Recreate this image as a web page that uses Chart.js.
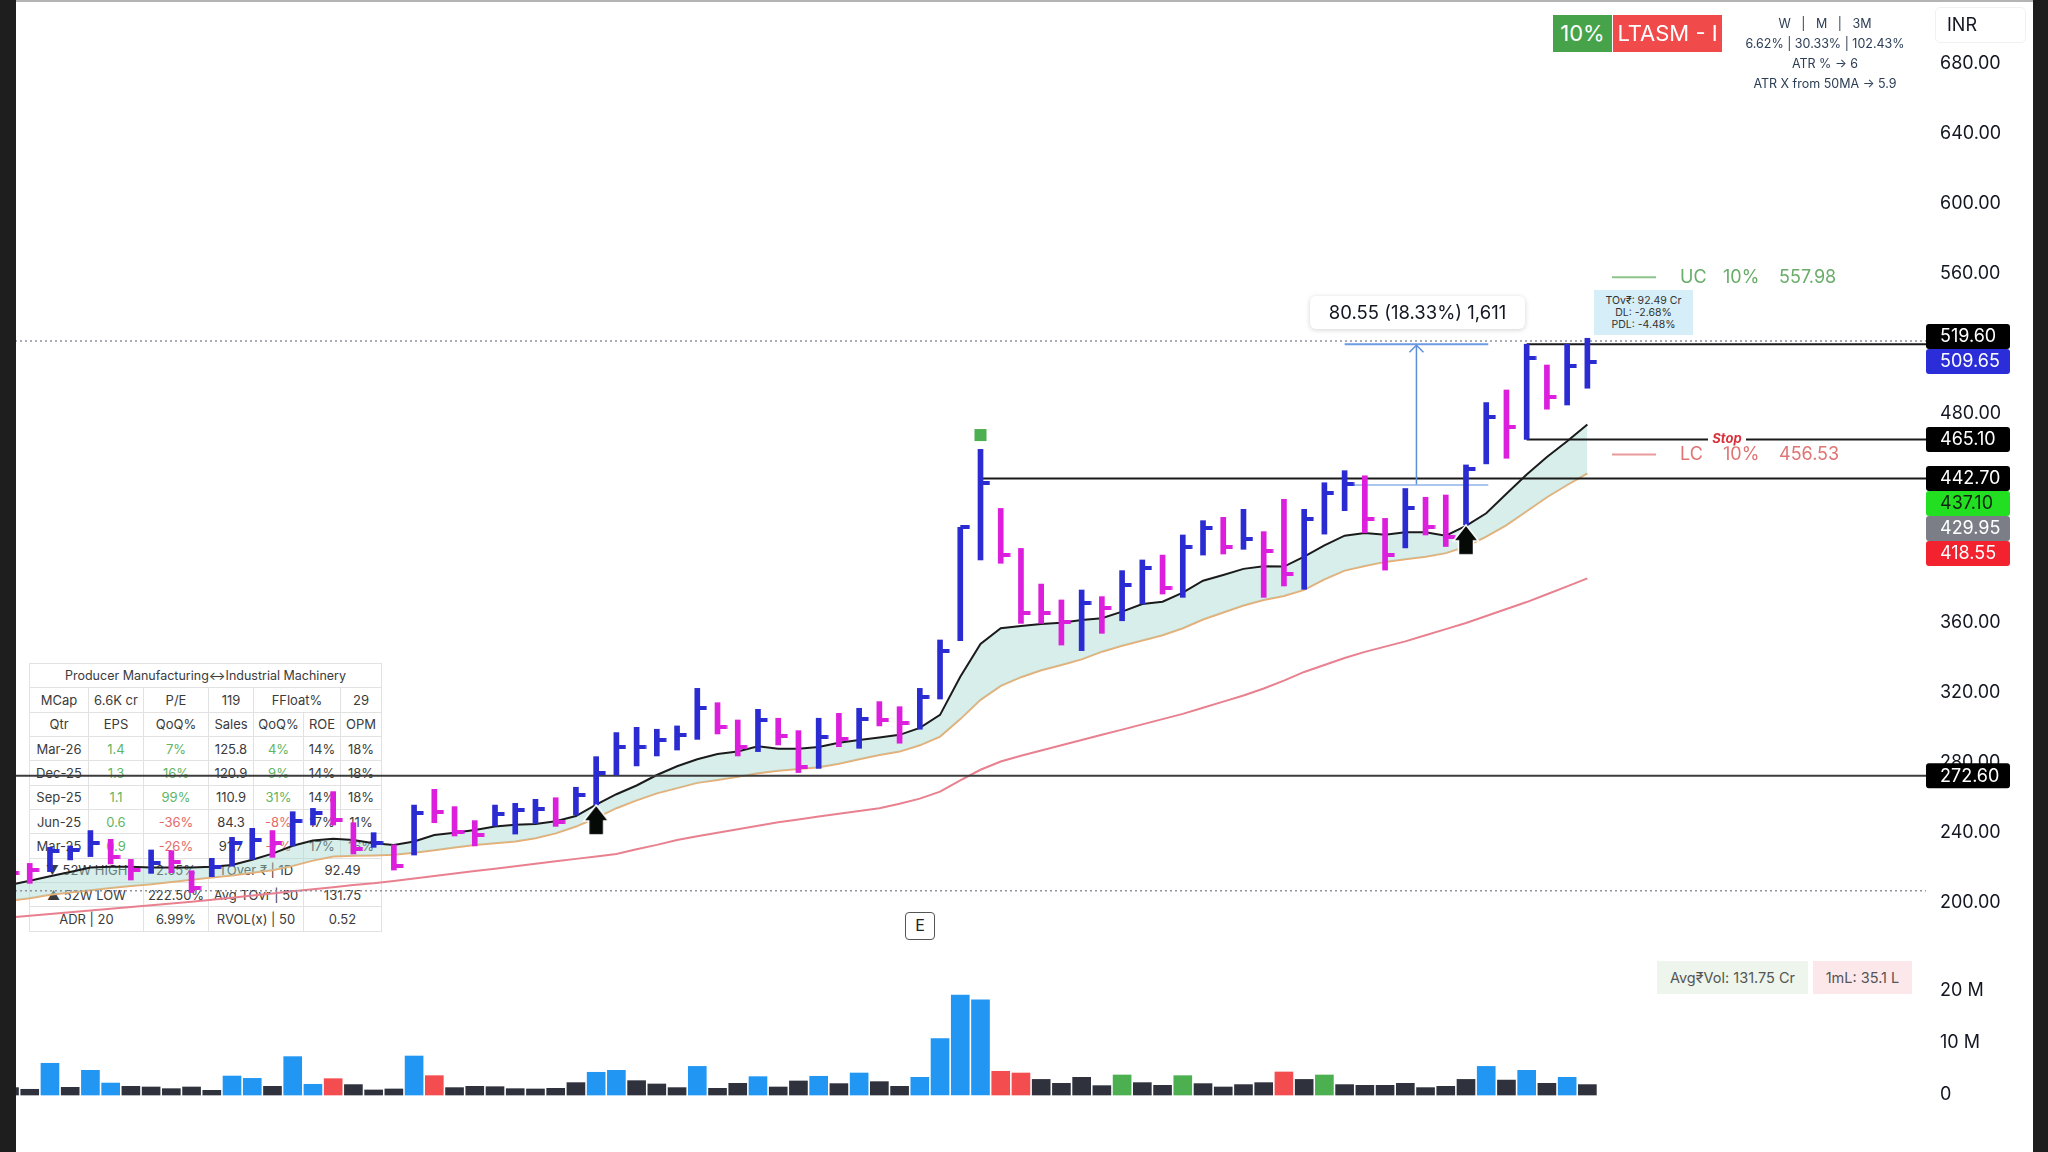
<!DOCTYPE html>
<html><head><meta charset="utf-8">
<script src="https://cdn.jsdelivr.net/npm/chart.js@4.4.1/dist/chart.umd.min.js"></script>
<style>
html,body{margin:0;padding:0;background:#fff;}
body{width:2048px;height:1152px;position:relative;overflow:hidden;font-family:Inter,"Noto Sans",sans-serif;color:#131722;}
#wrap{position:absolute;left:0;top:0;width:2048px;height:1152px;z-index:2;}
.ov{position:absolute;z-index:3;box-sizing:border-box;}
#info{position:absolute;left:29px;top:663px;z-index:1;border-collapse:collapse;table-layout:fixed;font-size:13px;color:#3b3b3b;}
#info td{border:1px solid #e2e2e2;padding:0;text-align:center;white-space:nowrap;overflow:hidden;}
#info tr{height:24.35px;}
.g{color:#5fb563;} .r{color:#e46a6a;}
</style></head>
<body>
<table id="info">
<colgroup><col style="width:59px"><col style="width:55px"><col style="width:65px"><col style="width:45px"><col style="width:50px"><col style="width:37px"><col style="width:41px"></colgroup>
<tr><td colspan="7" style="font-size:12.5px">Producer Manufacturing↔Industrial Machinery</td></tr>
<tr><td>MCap</td><td>6.6K cr</td><td>P/E</td><td>119</td><td colspan="2">FFloat%</td><td>29</td></tr>
<tr><td>Qtr</td><td>EPS</td><td>QoQ%</td><td>Sales</td><td>QoQ%</td><td>ROE</td><td>OPM</td></tr>
<tr><td>Mar-26</td><td class="g">1.4</td><td class="g">7%</td><td>125.8</td><td class="g">4%</td><td>14%</td><td>18%</td></tr>
<tr><td>Dec-25</td><td class="g">1.3</td><td class="g">16%</td><td>120.9</td><td class="g">9%</td><td>14%</td><td>18%</td></tr>
<tr><td>Sep-25</td><td class="g">1.1</td><td class="g">99%</td><td>110.9</td><td class="g">31%</td><td>14%</td><td>18%</td></tr>
<tr><td>Jun-25</td><td class="g">0.6</td><td class="r">-36%</td><td>84.3</td><td class="r">-8%</td><td>17%</td><td>11%</td></tr>
<tr><td>Mar-25</td><td class="g">0.9</td><td class="r">-26%</td><td>91.7</td><td class="r">-7%</td><td>17%</td><td>16%</td></tr>
<tr><td colspan="2">▼ 52W HIGH</td><td>2.55%</td><td colspan="2">TOver ₹ | 1D</td><td colspan="2">92.49</td></tr>
<tr><td colspan="2">▲ 52W LOW</td><td>222.50%</td><td colspan="2">Avg TOvr | 50</td><td colspan="2">131.75</td></tr>
<tr><td colspan="2">ADR | 20</td><td>6.99%</td><td colspan="2">RVOL(x) | 50</td><td colspan="2">0.52</td></tr>
</table>
<div id="wrap"><canvas id="c" width="2048" height="1152"></canvas></div>

<div class="ov" style="left:0;top:0;width:16px;height:1152px;background:#1e1e1e"></div>
<div class="ov" style="left:2033px;top:0;width:15px;height:1152px;background:#1e1e1e"></div>
<div class="ov" style="left:16px;top:0;width:2017px;height:2px;background:#b4b4b4"></div>

<div class="ov" style="left:1553px;top:15px;width:59px;height:37px;background:#46a34a;color:#fff;font-size:22px;line-height:37px;text-align:center">10%</div>
<div class="ov" style="left:1613px;top:15px;width:109px;height:37px;background:#f04a4b;color:#fff;font-size:22px;line-height:37px;text-align:center">LTASM - I</div>
<div class="ov" style="left:1705px;top:14px;width:240px;text-align:center;font-size:12.5px;line-height:20px;color:#2c3e55">W &nbsp;&nbsp;| &nbsp;&nbsp;M &nbsp;&nbsp;| &nbsp;&nbsp;3M<br>6.62% | 30.33% | 102.43%<br>ATR % → 6<br>ATR X from 50MA → 5.9</div>
<div class="ov" style="left:1935px;top:7px;width:91px;height:36px;background:#fff;border:1px solid #f1f1f1;border-radius:5px;font-size:18px;line-height:34px;padding-left:11px">INR</div>

<div class="ov" style="left:1310px;top:296px;width:215px;height:33px;background:#fff;border-radius:6px;box-shadow:0 1px 5px rgba(0,0,0,0.18);font-size:18.5px;line-height:33px;text-align:center">80.55 (18.33%) 1,611</div>
<div class="ov" style="left:1594px;top:290px;width:99px;height:45px;background:#d5eef7;font-size:10.5px;line-height:12px;text-align:center;padding-top:5px;color:#333">TOv₹: 92.49 Cr<br>DL: -2.68%<br>PDL: -4.48%</div>

<div class="ov" style="left:905px;top:912px;width:30px;height:28px;background:#fff;border:1.5px solid #555;border-radius:4px;font-size:16px;line-height:25px;text-align:center;color:#222">E</div>

<div class="ov" style="left:1657px;top:961px;width:151px;height:33px;background:#edf5ec;font-size:14.5px;line-height:33px;text-align:center;color:#555">Avg₹Vol: 131.75 Cr</div>
<div class="ov" style="left:1813px;top:961px;width:99px;height:33px;background:#fce8ea;font-size:14.5px;line-height:33px;text-align:center;color:#555">1mL: 35.1 L</div>

<script>
// ---------- data ----------
const highs = [221,222.4,231.6,232.4,241.2,236.2,224.7,230.1,229.7,218.2,
225.3,237.3,242.5,241.2,252.0,253.9,263.5,245.7,240.0,233.0,
255.8,264.8,254.9,246.9,255.8,256.8,259.1,260.0,266.0,283.5,
297.3,300.3,299.2,301.1,322.6,314.4,304.5,310.6,305.5,298.4,
305.5,308.3,311.2,315.0,312.1,322.6,350.3,414.8,459.4,425.6,
402.7,382.3,373.2,378.9,375.1,390.0,396.1,398.9,410.4,418.6,
420.5,425.1,412.3,430.8,425.1,440.3,447.2,444.3,419.9,437.0,
432.0,433.3,450.5,486.2,493.4,519.6,507.7,519.6,523.0];
const lows = [215,211.0,217.7,224.4,226.3,222.1,212.9,216.7,217.1,205.7,
214.8,220.9,224.7,225.9,232.4,244.4,244.4,227.8,231.6,218.6,
227.2,245.7,238.1,232.4,243.8,239.2,245.3,243.6,250.1,255.9,
273.0,278.2,283.9,287.3,293.4,296.5,283.9,286.4,290.2,274.4,
276.8,289.2,288.3,301.1,291.2,299.2,316.5,349.9,396.1,394.2,
359.8,359.8,347.4,344.2,354.1,361.3,370.9,376.6,374.7,398.9,
399.5,402.2,374.7,381.2,379.3,410.9,424.3,411.7,390.3,403.0,
410.4,403.8,416.2,451.1,454.3,465.1,482.4,484.8,494.4];
const closes = [217,218.6,229.7,230.1,234.3,226.3,218.6,222.4,223.4,208.1,
220.5,233.9,235.8,233.9,246.9,251.5,247.3,230.5,233.9,220.9,
251.5,252.0,240.6,238.7,250.7,253.0,253.4,246.0,261.3,274.0,
288.9,289.2,293.1,295.9,311.2,300.3,288.9,304.5,295.5,277.8,
294.6,293.4,304.9,304.5,303.0,317.9,344.0,414.8,440.0,398.9,
365.5,365.5,360.8,371.3,368.4,381.8,391.3,379.8,403.3,414.2,
403.3,407.9,401.4,388.0,419.3,434.2,439.6,419.3,398.9,425.6,
415.2,409.5,448.0,478.2,472.4,511.6,489.6,507.2,509.65];
const barDir = ("DDUUUDDUDD"+"UUUDUUDDUD"+"UDDDUUUDUU"+"UUUUUDDUDD"+"UDUDDUUUUD"+
                "DDDUDUUDUU"+"DUDDUUUDDU"+"DDUUDUDUU").split("");
const volumesM = [1.42,1.1,6.1,1.48,4.75,2.3,1.67,1.54,1.22,1.54,
0.9,3.65,3.2,1.67,7.38,2.06,3.14,2.0,0.97,1.16,
7.5,3.72,1.42,1.67,1.6,1.22,1.16,1.29,2.38,4.37,
4.75,2.76,2.12,1.42,5.5,1.29,2.25,3.53,1.54,2.7,
3.6,2.19,4.23,2.57,1.67,3.4,10.85,19.2,18.3,4.56,
4.23,3.0,2.25,3.4,1.8,3.85,2.38,1.86,3.72,2.19,
1.54,2.0,2.38,4.43,3.0,3.85,2.0,1.86,1.86,2.25,
1.42,1.67,3.0,5.5,2.87,4.75,2.25,3.4,2.0];
const volKind = ("DDBDBBDDDD"+"DBBDBBRDDD"+"BRDDDDDDDB"+"BDDDBDDBDD"+"BDBDDBBBBR"+
                 "RDDDDGDDGD"+"DDDRDGDDDD"+"DDDBDBDBD").split("");
const ema10 = [210,212.5,215,217.5,220,220.5,220.5,220,220,220,
220.5,221.5,224.5,228,232.5,235.5,236.5,235.8,234,233,
235,238.7,240,241.5,243.5,244.5,245,246.5,249.5,256,
262,267,273,278,282,285,286.5,289.5,288,288,
289,291.5,293,294.5,296,300,307.4,329.3,348,357,
358.3,359.4,360.2,361.7,362.7,366.5,370.9,372.2,377.4,384.2,
387.5,391,392.5,392.3,398,404.5,410,411.5,410.5,412,
412,410,415.6,422.8,434,445,455,464,473.6];
const ema21 = [201,202.5,204.5,205.8,207,208.3,209.5,210.5,211.8,213,
214.3,215.5,217,218.5,221,224,226.3,226.8,227,227.3,
228.5,230,231.5,233,234,235,236.8,239.6,243.5,248.5,
254,258.5,262.5,265.5,268.5,270.2,272,274,275.5,276.5,
277.5,279.5,282,284.5,286.4,290,295,305,316,324,
329,333,336,339.2,343.6,347,350,353,357,362,
366,370,373.2,375.5,379,385,390,392.6,395,396.5,
398,400,403.8,409.5,416,424,432,439,445.7];
const sma50 = [191.5,192.5,193.5,194.5,195.5,196.5,197.5,198.5,199.5,200.5,
201.6,202.8,204,205.2,206.4,207.6,208.8,210,211,212.4,
213.8,215.2,216.6,218,219.4,220.8,222.2,223.6,225,226.4,
227.8,230.5,233,235.8,238,240,242,244,246,247.6,
249.2,250.8,252.4,254,256.5,259.5,263.5,270,276,280.7,
284,287,290,293,296,299,302,305,308,311.5,
315,318.5,322.5,327,332,336,340,343.5,346.5,349.5,
353,356.5,360,364,368,372,376.5,381,385.6];
const priceTicks = [200,240,280,320,360,400,440,480,520,560,600,640,680];
const volTicksM = [0,10,20];
const tagValues = [519.60,509.65,465.10,442.70,437.10,429.95,418.55,272.60];
const tagKinds  = ["black","last","black","black","green","gray","red","black"];
const tagFixed  = [false,true,false,true,false,false,false,false];
// horizontal levels: [startBar, price]
const solidLevels = [[75,519.60],[75,465.10],[48,442.70],[null,272.60]];
const dottedLevels = [521.5,206.8];
const measureFrom = 439.05, measureTo = 519.60, measureBars = [66.0,73.1];
const ucLc = [["UC","10%",557.98],["LC","10%",456.53]];
const signalBars = [29,72];           // up-arrows under the bar low
const squareBars = [[48,467.6]];      // green square marker

// ---------- styling ----------
const X_MIN = -0.47, X_MAX = 94.74;
const BLUE = '#2b2bd2', MAG = '#dc1fdc';
const VOLC = {D:'#2f323c',B:'#2196f3',R:'#f44d4f',G:'#4caf50'};
const TAGC = {black:['#000','#fff'],last:['#2b2ed8','#fff'],green:['#22df22','#112211'],gray:['#7c7e87','#fff'],red:['#f2222e','#fff']};

function tickImg(color){const c=document.createElement('canvas');c.width=20;c.height=4;const g=c.getContext('2d');g.fillStyle=color;g.fillRect(10,0,9.5,4);return c;}
function arrowImg(){const c=document.createElement('canvas');c.width=30;c.height=64;const g=c.getContext('2d');
 g.fillStyle='#050a06';g.strokeStyle='#fff';g.lineWidth=1.5;g.beginPath();
 g.moveTo(15,32);g.lineTo(27.5,48);g.lineTo(22.5,48);g.lineTo(22.5,62);g.lineTo(7.5,62);g.lineTo(7.5,48);g.lineTo(2.5,48);g.closePath();g.fill();g.stroke();return c;}
const TICK_B = tickImg(BLUE), TICK_M = tickImg(MAG), ARROW = arrowImg();

const N = highs.length;
const bars = highs.map((h,i)=>i);
const pts = arr => arr.map((v,i)=>({x:i,y:v}));

const datasets = [];
datasets.push({type:'line',data:pts(ema10),borderColor:'#1b1b1b',borderWidth:2,pointRadius:0,tension:0,fill:'+1',backgroundColor:'rgba(160,214,208,0.42)',order:60});
datasets.push({type:'line',data:pts(ema21),borderColor:'#eeaa6c',borderWidth:2,pointRadius:0,tension:0,fill:false,order:61});
datasets.push({type:'line',data:pts(sma50),borderColor:'#e9808f',borderWidth:2,pointRadius:0,tension:0,fill:false,order:62});
dottedLevels.forEach(v=>datasets.push({type:'line',data:[{x:X_MIN,y:v},{x:X_MAX,y:v}],borderColor:'#8f929a',borderWidth:1.5,borderDash:[2,3],pointRadius:0,fill:false,order:55}));
solidLevels.forEach(([b,v])=>datasets.push({type:'line',data:[{x:b===null?X_MIN:b,y:v},{x:X_MAX,y:v}],borderColor:b===null?'#3c3c3c':'#1a1a1a',borderWidth:2,pointRadius:0,fill:false,order:54}));
// measure tool
datasets.push({type:'line',data:[{x:measureBars[0],y:measureTo},{x:measureBars[1],y:measureTo}],borderColor:'#6b9be3',borderWidth:2,pointRadius:0,fill:false,order:53});
datasets.push({type:'line',data:[{x:measureBars[0],y:measureFrom},{x:measureBars[1],y:measureFrom}],borderColor:'#8fb3e8',borderWidth:1.5,pointRadius:0,fill:false,order:53});
const mMid = (measureBars[0]+measureBars[1])/2;
datasets.push({type:'line',data:[{x:mMid,y:measureFrom},{x:mMid,y:measureTo}],borderColor:'#5a8fd8',borderWidth:1.5,pointRadius:0,fill:false,order:53});
// volume
datasets.push({type:'bar',yAxisID:'vol',data:volumesM.map((v,i)=>({x:i,y:v*1e6})),backgroundColor:volKind.map(k=>VOLC[k]),barThickness:18,grouped:false,order:40});
// price bars
datasets.push({type:'bar',yAxisID:'y',data:bars.map(i=>({x:i,y:[lows[i],highs[i]]})),backgroundColor:barDir.map(d=>d==='U'?BLUE:MAG),barThickness:5,grouped:false,order:10});
datasets.push({type:'scatter',yAxisID:'y',data:pts(closes),pointStyle:barDir.map(d=>d==='U'?TICK_B:TICK_M),pointRadius:3,order:8});
datasets.push({type:'scatter',yAxisID:'y',data:signalBars.map(b=>({x:b,y:lows[b]})),pointStyle:ARROW,pointRadius:3,order:6});
datasets.push({type:'scatter',yAxisID:'y',data:squareBars.map(([b,v])=>({x:b,y:v})),pointStyle:'rect',pointRadius:8.5,backgroundColor:'#4caf50',borderWidth:0,order:6});

const overlay = {
 id:'overlay',
 afterDraw(chart){
  const ctx=chart.ctx, ys=chart.scales.y, xs=chart.scales.x;
  ctx.save();
  // measure arrow head
  const mx=xs.getPixelForValue(mMid), my=ys.getPixelForValue(measureTo);
  ctx.strokeStyle='#5a8fd8';ctx.lineWidth=1.5;ctx.beginPath();ctx.moveTo(mx-7,my+8);ctx.lineTo(mx,my+1);ctx.lineTo(mx+7,my+8);ctx.stroke();
  // UC / LC
  ctx.font='18px Inter, "Noto Sans", sans-serif';ctx.textBaseline='middle';ctx.textAlign='left';
  ucLc.forEach(([lab,pct,v],k)=>{
   const y=ys.getPixelForValue(v), col=k===0?'#69ad69':'#e07474';
   ctx.strokeStyle=k===0?'#8cc48c':'#e99a9a';ctx.lineWidth=2;ctx.beginPath();ctx.moveTo(1612,y);ctx.lineTo(1656,y);ctx.stroke();
   ctx.fillStyle=col;ctx.fillText(lab,1680,y);ctx.fillText(pct,1723,y);ctx.fillText(v.toFixed(2),1779,y);
  });
  // Stop label
  const sy=ys.getPixelForValue(465.10);
  ctx.fillStyle='#fff';ctx.fillRect(1708,sy-7,38,14);
  ctx.font='italic bold 13px Inter, "Noto Sans", sans-serif';ctx.fillStyle='#d9323c';ctx.textAlign='center';ctx.fillText('Stop',1727,sy);
  // price tags
  const H=25, order=tagValues.map((v,i)=>i).sort((a,b)=>tagValues[b]-tagValues[a]);
  const pos={};order.forEach(i=>pos[i]=ys.getPixelForValue(tagValues[i]));
  for(let k=0;k<order.length;k++){
   const i=order[k]; if(tagFixed[i]) continue;
   const nx=order[k+1], pv=order[k-1];
   if(nx!==undefined && tagFixed[nx] && pos[nx]-pos[i]<H){pos[i]=pos[nx]-H;}
   else if(pv!==undefined && pos[i]-pos[pv]<H){pos[i]=pos[pv]+H;}
  }
  ctx.font='18px Inter, "Noto Sans", sans-serif';ctx.textAlign='left';
  order.forEach(i=>{
   const [bg,fg]=TAGC[tagKinds[i]], y=pos[i];
   ctx.fillStyle=bg;ctx.beginPath();ctx.roundRect(chart.chartArea.right,y-H/2,84,H,3);ctx.fill();
   ctx.fillStyle=fg;ctx.fillText(tagValues[i].toFixed(2),chart.chartArea.right+14,y+0.5);
  });
  ctx.restore();
 }
};

const tickFont={size:18,family:'Inter, "Noto Sans", sans-serif'};
new Chart(document.getElementById('c'),{
 type:'line',
 data:{datasets},
 options:{
  responsive:false,animation:false,events:[],
  layout:{padding:0,autoPadding:false},
  plugins:{legend:{display:false},tooltip:{enabled:false}},
  scales:{
   x:{type:'linear',min:X_MIN,max:X_MAX,display:false,offset:false},
   y:{type:'linear',position:'right',min:57.21,max:716.63,weight:1,
      grid:{display:false,drawTicks:false},border:{display:false},
      ticks:{padding:14,autoSkip:false,color:'#131722',font:tickFont,callback:v=>Number(v).toFixed(2)},
      afterBuildTicks:s=>{s.ticks=priceTicks.map(v=>({value:v}));},
      afterFit:s=>{s.width=122;s.paddingTop=0;s.paddingBottom=0;}},
   vol:{type:'linear',position:'right',min:-10.96e6,max:210.58e6,weight:0,
      grid:{display:false,drawTicks:false},border:{display:false},
      ticks:{padding:14,autoSkip:false,color:'#131722',font:tickFont,callback:v=>v===0?'0':(v/1e6)+' M'},
      afterBuildTicks:s=>{s.ticks=volTicksM.map(v=>({value:v*1e6}));},
      afterFit:s=>{s.width=0;s.paddingTop=0;s.paddingBottom=0;s._computeLabelArea=function(){return undefined;};}}
  }
 },
 plugins:[overlay]
});
</script>
</body></html>
